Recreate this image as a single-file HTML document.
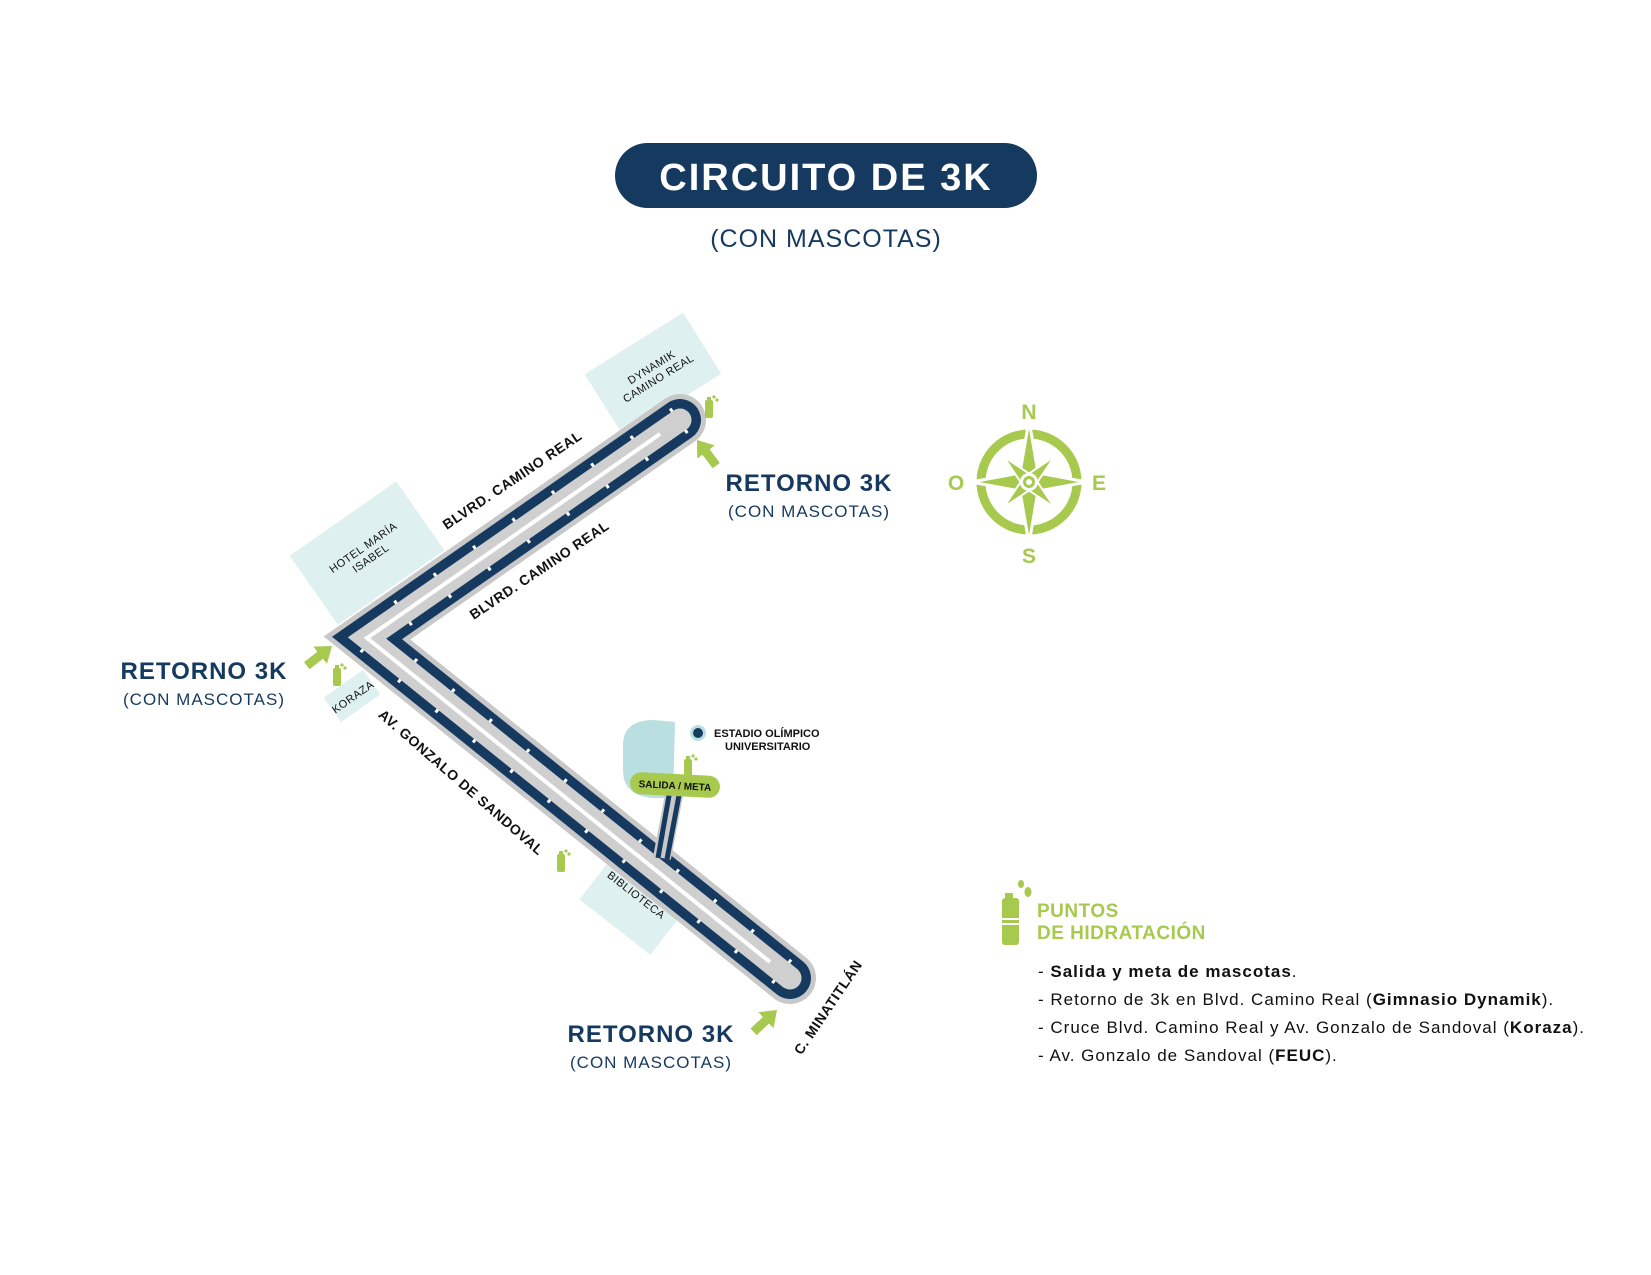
<!DOCTYPE html>
<html><head><meta charset="utf-8"><style>
body{margin:0;background:#fff;}
svg{display:block;font-family:"Liberation Sans",sans-serif;}
</style></head><body>
<svg width="1651" height="1275" viewBox="0 0 1651 1275" xmlns="http://www.w3.org/2000/svg">
<!-- title -->
<rect x="615" y="143" width="422" height="65" rx="32.5" fill="#163a5f"/>
<text x="826" y="190" text-anchor="middle" font-size="38" font-weight="bold" fill="#fff" letter-spacing="2">CIRCUITO DE 3K</text>
<text x="826" y="247" text-anchor="middle" font-size="25" fill="#163a5f" letter-spacing="1">(CON MASCOTAS)</text>

<!-- light boxes -->
<g fill="#dff0f0">
<rect x="-65" y="-42" width="130" height="84" transform="translate(367,553) rotate(-35)"/>
<rect x="-58" y="-36" width="116" height="72" transform="translate(653,374) rotate(-32)"/>
<rect x="-24" y="-15" width="48" height="30" transform="translate(352,696) rotate(-35)"/>
<rect x="-45" y="-28" width="90" height="56" transform="translate(632,905) rotate(38)"/>
</g>
<g font-size="11" fill="#111" text-anchor="middle" letter-spacing="0.5">
<g transform="translate(367,553) rotate(-35)"><text y="-3">HOTEL MARÍA</text><text y="10">ISABEL</text></g>
<g transform="translate(655,373) rotate(-32)"><text y="-3">DYNAMIK</text><text y="10">CAMINO REAL</text></g>
<text transform="translate(355,700) rotate(-35)">KORAZA</text>
<text transform="translate(634,898) rotate(38)">BIBLIOTECA</text>
</g>

<!-- stadium -->
<path d="M654,720 L675,722 L673,798 L658,798 Q623,798 623,770 L623,745 Q623,720 654,720 Z" fill="#b9dfe0"/>

<!-- route -->
<g fill="none" stroke-linejoin="miter" stroke-miterlimit="10">
<polyline points="680,420 367,638 790,978" stroke="#c8c8c8" stroke-width="52" stroke-linecap="round"/>
<polyline points="680,420 367,638 790,978" stroke="#163a5f" stroke-width="42" stroke-linecap="round"/>
<polyline points="680,420 367,638 790,978" stroke="#fff" stroke-width="30" stroke-dasharray="3 45"/>
<polyline points="680,420 367,638 790,978" stroke="#cfcfcf" stroke-width="23" stroke-linecap="round"/>
<polyline points="660,434 367,638 770,962" stroke="#fff" stroke-width="4"/>
<line x1="662" y1="858" x2="675" y2="790" stroke="#c8c8c8" stroke-width="18"/>
<line x1="658" y1="858" x2="670" y2="790" stroke="#163a5f" stroke-width="5"/>
<line x1="667" y1="859" x2="680" y2="790" stroke="#163a5f" stroke-width="5"/>
</g>

<!-- salida/meta -->
<g transform="translate(675,785) rotate(3)">
<rect x="-45" y="-11" width="90" height="22" rx="11" fill="#a6c94e"/>
<text x="0" y="4" text-anchor="middle" font-size="10" font-weight="bold" fill="#111">SALIDA / META</text>
</g>
<circle cx="698" cy="733" r="8" fill="#b9dfe0"/><circle cx="698" cy="733" r="5" fill="#163a5f"/>
<text x="714" y="737" font-size="11" font-weight="bold" fill="#111">ESTADIO OLÍMPICO</text>
<text x="725" y="750" font-size="11" font-weight="bold" fill="#111">UNIVERSITARIO</text>

<!-- street labels -->
<g font-size="14" font-weight="bold" fill="#111" text-anchor="middle" letter-spacing="0.6">
<text transform="translate(515,484) rotate(-34)">BLVRD. CAMINO REAL</text>
<text transform="translate(542,574) rotate(-34)">BLVRD. CAMINO REAL</text>
<text transform="translate(458,786) rotate(41)">AV. GONZALO DE SANDOVAL</text>
<text transform="translate(832,1010) rotate(-56)">C. MINATITLÁN</text>
</g>

<!-- bottles -->
<defs>
<g id="b"><rect x="-4" y="-14" width="8" height="18" rx="2" fill="#a6c94e"/><rect x="-2" y="-17" width="4" height="4" fill="#a6c94e"/><circle cx="5" cy="-17" r="1.6" fill="#a6c94e"/><circle cx="8" cy="-14" r="1.6" fill="#a6c94e"/></g>
<path id="ar" d="M0,0 L-15,-11 L-15,-4.5 L-32,-4.5 L-32,4.5 L-15,4.5 L-15,11 Z" fill="#a6c94e"/>
</defs>
<use href="#b" x="709" y="414"/>
<use href="#b" x="337" y="682"/>
<use href="#b" x="688" y="773"/>
<use href="#b" x="561" y="868"/>

<!-- arrows -->
<use href="#ar" transform="translate(697,440) rotate(-127)"/>
<use href="#ar" transform="translate(332,646) rotate(-38)"/>
<use href="#ar" transform="translate(777,1010) rotate(-43)"/>

<!-- retorno labels -->
<g fill="#163a5f" text-anchor="middle" letter-spacing="1">
<text x="809" y="491" font-size="24" font-weight="bold">RETORNO  3K</text>
<text x="809" y="517" font-size="17">(CON MASCOTAS)</text>
<text x="204" y="679" font-size="24" font-weight="bold">RETORNO  3K</text>
<text x="204" y="705" font-size="17">(CON MASCOTAS)</text>
<text x="651" y="1042" font-size="24" font-weight="bold">RETORNO  3K</text>
<text x="651" y="1068" font-size="17">(CON MASCOTAS)</text>
</g>

<!-- compass -->
<g transform="translate(1029,482)" fill="#a6c94e">
<circle r="48" fill="none" stroke="#a6c94e" stroke-width="9"/>
<path d="M0,-62 L9,-9 L58,0 L9,9 L0,62 L-9,9 L-58,0 L-9,-9 Z" stroke="#fff" stroke-width="3"/>
<path d="M0,-36 L6,-6 L36,0 L6,6 L0,36 L-6,6 L-36,0 L-6,-6 Z" transform="rotate(45)" stroke="#fff" stroke-width="2"/>
<circle r="9" fill="#fff"/><circle r="6"/>
<circle r="3" fill="#fff"/>
</g>
<g fill="#a6c94e" font-size="21" font-weight="bold" text-anchor="middle">
<text x="1029" y="419">N</text>
<text x="1029" y="563">S</text>
<text x="956" y="490">O</text>
<text x="1099" y="490">E</text>
</g>

<!-- legend -->
<g fill="#a6c94e">
<rect x="1005" y="893" width="8" height="6"/>
<rect x="1002" y="898" width="17" height="47" rx="3"/>
<rect x="1002" y="918" width="17" height="2" fill="#fff"/>
<rect x="1002" y="923" width="17" height="2" fill="#fff"/>
<ellipse cx="1021" cy="884" rx="3" ry="4"/>
<ellipse cx="1028" cy="892" rx="3.5" ry="5"/>
</g>
<text x="1037" y="917" font-size="19" font-weight="bold" fill="#a6c94e" letter-spacing="0.5">PUNTOS</text>
<text x="1037" y="939" font-size="19" font-weight="bold" fill="#a6c94e" letter-spacing="0.5">DE HIDRATACIÓN</text>
<g font-size="17" fill="#111" letter-spacing="1">
<text x="1038" y="977">-  <tspan font-weight="bold">Salida y meta de mascotas</tspan>.</text>
<text x="1038" y="1005">-  Retorno de 3k en Blvd. Camino Real (<tspan font-weight="bold">Gimnasio Dynamik</tspan>).</text>
<text x="1038" y="1033">-  Cruce Blvd. Camino Real y Av. Gonzalo de Sandoval (<tspan font-weight="bold">Koraza</tspan>).</text>
<text x="1038" y="1061">-  Av. Gonzalo de Sandoval (<tspan font-weight="bold">FEUC</tspan>).</text>
</g>
</svg>
</body></html>
